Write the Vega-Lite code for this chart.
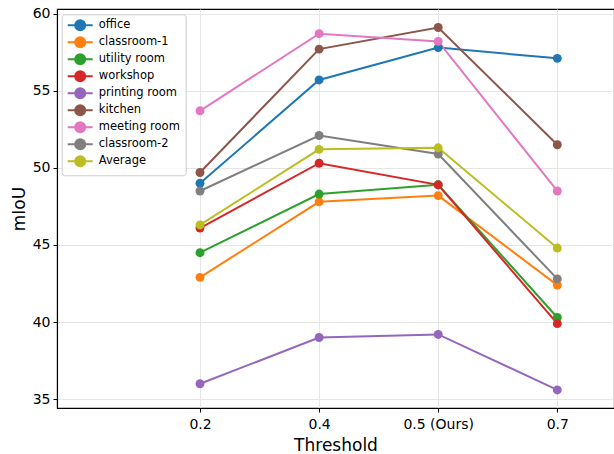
{
  "$schema": "https://vega.github.io/schema/vega-lite/v6.json",
  "width": 557,
  "height": 399,
  "autosize": {"type": "none"},
  "padding": {"left": 57, "top": 9, "right": 0, "bottom": 46},
  "config": {
    "font": "DejaVu Sans",
    "view": {"stroke": "black", "strokeWidth": 1.1},
    "axis": {
      "gridColor": "#e6e6e6",
      "gridWidth": 1,
      "domainColor": "black",
      "domainWidth": 1.1,
      "tickColor": "black",
      "tickSize": 4,
      "tickWidth": 1,
      "labelColor": "black",
      "labelFontSize": 14,
      "labelFont": "DejaVu Sans",
      "titleFont": "DejaVu Sans",
      "titleFontSize": 17,
      "titleFontWeight": "normal",
      "titleColor": "black"
    }
  },
  "data": {
    "values": [
      {"room": "office", "idx": 1, "miou": 49.0},
      {"room": "office", "idx": 2, "miou": 55.7},
      {"room": "office", "idx": 3, "miou": 57.8},
      {"room": "office", "idx": 4, "miou": 57.1},
      {"room": "classroom-1", "idx": 1, "miou": 42.9},
      {"room": "classroom-1", "idx": 2, "miou": 47.8},
      {"room": "classroom-1", "idx": 3, "miou": 48.2},
      {"room": "classroom-1", "idx": 4, "miou": 42.4},
      {"room": "utility room", "idx": 1, "miou": 44.5},
      {"room": "utility room", "idx": 2, "miou": 48.3},
      {"room": "utility room", "idx": 3, "miou": 48.9},
      {"room": "utility room", "idx": 4, "miou": 40.3},
      {"room": "workshop", "idx": 1, "miou": 46.1},
      {"room": "workshop", "idx": 2, "miou": 50.3},
      {"room": "workshop", "idx": 3, "miou": 48.9},
      {"room": "workshop", "idx": 4, "miou": 39.9},
      {"room": "printing room", "idx": 1, "miou": 36.0},
      {"room": "printing room", "idx": 2, "miou": 39.0},
      {"room": "printing room", "idx": 3, "miou": 39.2},
      {"room": "printing room", "idx": 4, "miou": 35.6},
      {"room": "kitchen", "idx": 1, "miou": 49.7},
      {"room": "kitchen", "idx": 2, "miou": 57.7},
      {"room": "kitchen", "idx": 3, "miou": 59.1},
      {"room": "kitchen", "idx": 4, "miou": 51.5},
      {"room": "meeting room", "idx": 1, "miou": 53.7},
      {"room": "meeting room", "idx": 2, "miou": 58.7},
      {"room": "meeting room", "idx": 3, "miou": 58.2},
      {"room": "meeting room", "idx": 4, "miou": 48.5},
      {"room": "classroom-2", "idx": 1, "miou": 48.5},
      {"room": "classroom-2", "idx": 2, "miou": 52.1},
      {"room": "classroom-2", "idx": 3, "miou": 50.9},
      {"room": "classroom-2", "idx": 4, "miou": 42.8},
      {"room": "Average", "idx": 1, "miou": 46.3},
      {"room": "Average", "idx": 2, "miou": 51.2},
      {"room": "Average", "idx": 3, "miou": 51.3},
      {"room": "Average", "idx": 4, "miou": 44.8}
    ]
  },
  "encoding": {
    "x": {
      "field": "idx",
      "type": "quantitative",
      "scale": {"domain": [-0.2007, 4.476], "nice": false, "zero": false},
      "axis": {
        "values": [1, 2, 3, 4],
        "labelExpr": "['', '0.2', '0.4', '0.5 (Ours)', '0.7'][datum.value]",
        "title": "Threshold",
        "labelPadding": 5,
        "titlePadding": 6
      }
    },
    "y": {
      "field": "miou",
      "type": "quantitative",
      "scale": {"domain": [34.43, 60.3], "nice": false, "zero": false},
      "axis": {
        "values": [35, 40, 45, 50, 55, 60],
        "title": "mIoU",
        "labelPadding": 3,
        "titlePadding": 4
      }
    },
    "color": {
      "field": "room",
      "type": "nominal",
      "scale": {
        "domain": ["office", "classroom-1", "utility room", "workshop", "printing room", "kitchen", "meeting room", "classroom-2", "Average"],
        "range": ["#1f77b4", "#ff7f0e", "#2ca02c", "#d62728", "#9467bd", "#8c564b", "#e377c2", "#7f7f7f", "#bcbd22"]
      },
      "legend": {
        "orient": "none",
        "legendX": 4.7,
        "legendY": 5.3,
        "title": null,
        "padding": 5,
        "fillColor": "rgba(255,255,255,0.8)",
        "strokeColor": "#cccccc",
        "cornerRadius": 3,
        "labelFontSize": 11.5,
        "labelFont": "DejaVu Sans",
        "labelColor": "black",
        "symbolType": "M-2.5,0L2.5,0M1,0A1,1,0,1,1,-1,0A1,1,0,1,1,1,0",
        "symbolSize": 100,
        "symbolOffset": 7.5,
        "symbolStrokeWidth": 2,
        "labelOffset": 12.6,
        "rowPadding": -1,
        "encode": {
          "symbols": {
            "update": {
              "fill": {"scale": "color", "field": "value"},
              "stroke": {"scale": "color", "field": "value"},
              "strokeWidth": {"value": 2},
              "opacity": {"value": 1},
              "fillOpacity": {"value": 1}
            }
          }
        }
      }
    }
  },
  "layer": [
    {"mark": {"type": "line", "strokeWidth": 2}},
    {"mark": {"type": "point", "filled": true, "size": 80, "opacity": 1}}
  ]
}
